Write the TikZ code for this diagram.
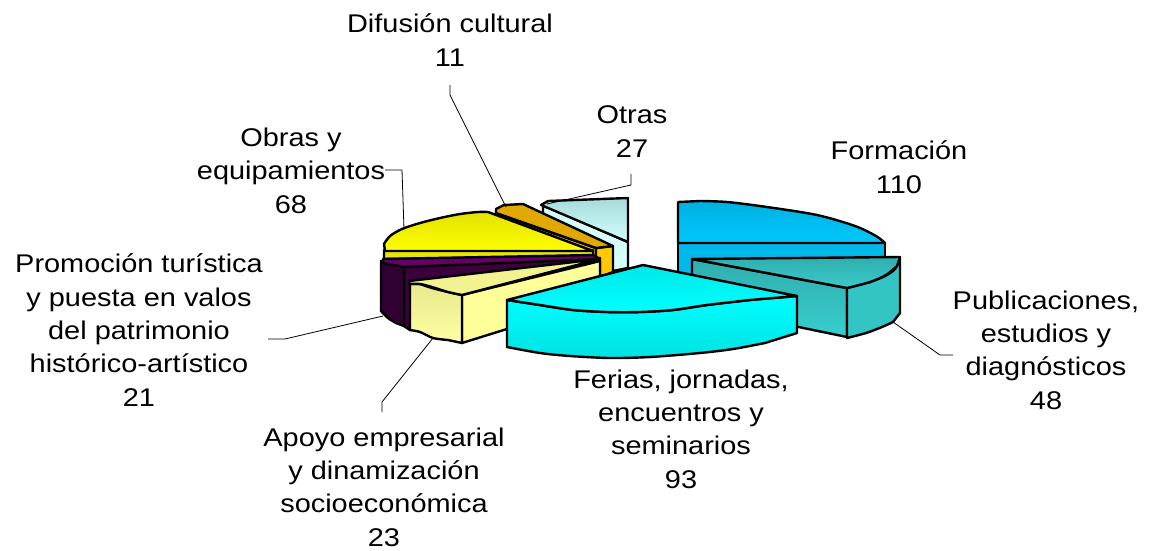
\documentclass[tikz,border=0pt]{standalone}
\usepackage{fontspec}
\setmainfont{Liberation Sans}[FakeStretch=1.13]
\definecolor{formTopA}{HTML}{00B0E2}
\definecolor{formTopB}{HTML}{00C8FC}
\definecolor{formFront}{HTML}{00B8EA}
\definecolor{pubTopA}{HTML}{2EAEAE}
\definecolor{pubTopB}{HTML}{3CCACA}
\definecolor{pubFrontA}{HTML}{30AEAE}
\definecolor{pubFrontB}{HTML}{38CECE}
\definecolor{pubOuter}{HTML}{33C4C4}
\definecolor{ferTopA}{HTML}{00E8E8}
\definecolor{ferTopB}{HTML}{00FFFF}
\definecolor{ferFrontA}{HTML}{00FFFF}
\definecolor{ferFrontB}{HTML}{00E2E2}
\definecolor{apoTop}{HTML}{F2F290}
\definecolor{apoOuterA}{HTML}{FFFFA4}
\definecolor{apoOuterB}{HTML}{E8E88C}
\definecolor{apoRadial}{HTML}{FFFF99}
\definecolor{proTop}{HTML}{660066}
\definecolor{proOuter}{HTML}{300030}
\definecolor{proRadial}{HTML}{3C003C}
\definecolor{obrTopA}{HTML}{E2E200}
\definecolor{obrTopB}{HTML}{FFFF00}
\definecolor{obrStrip}{HTML}{E6E600}
\definecolor{difTop}{HTML}{E0A800}
\definecolor{difFront}{HTML}{F2BC00}
\definecolor{difSide}{HTML}{FFC800}
\definecolor{otrTopA}{HTML}{A8DADA}
\definecolor{otrTopB}{HTML}{D2FFFF}
\definecolor{otrFront}{HTML}{D4FFFF}
\begin{document}
\begin{tikzpicture}[x=1pt,y=-1pt,
  face/.style={draw=black, line width=2.4pt, line join=round},
  leader/.style={draw=black, line width=0.8pt},
  lbl/.style={align=center, inner sep=0pt, anchor=base, font=\fontsize{25.6}{33.3}\selectfont}]
\useasboundingbox[fill=white] (0,0) rectangle (1153,550);

% ---- Otras
\draw[face, fill=otrFront] (543,205) -- (628,242) -- (628,268) -- (613,271) -- (543,236) -- cycle;
\draw[face, top color=otrTopA, bottom color=otrTopB] (541,205) -- (548,201) -- (628,198) -- (628,242) -- cycle;

% ---- Difusion cultural
\draw[face, fill=difFront] (496,213) -- (596,248) -- (596,276) -- (496,240) -- cycle;
\draw[face, fill=difSide] (596,248) -- (613,246) -- (613,272) -- (603,276) -- (596,276) -- cycle;
\draw[face, fill=difTop] (496,209) -- (504,205) -- (523,204) -- (613,246) -- (596,248) -- (496,213) -- cycle;

% ---- Obras y equipamientos
\draw[face, fill=obrStrip] (384,250) -- (593,250) -- (593,256) -- (384,259) -- cycle;
\draw[face, top color=obrTopA, bottom color=obrTopB] (385,251) -- plot[smooth] coordinates {(384,244) (390,236) (402,229) (420,223) (440,218) (460,214) (478,212) (488,212)} -- (593,251) -- cycle;

% ---- Promocion turistica
\draw[face, fill=proRadial] (404,266) -- (600,258) -- (600,300) -- (410,330) -- (404,326) -- cycle;
\draw[face, fill=proOuter] (381,261) -- (404,266) -- (404,326) -- plot[smooth] coordinates {(396,323) (388,318) (381,311)} -- cycle;
\draw[face, fill=proTop] (383,259) -- (593,255) -- (600,259) -- (404,267) -- (383,263) -- cycle;

% ---- Apoyo empresarial
\draw[face, fill=apoRadial] (462,295) -- (600,261) -- (600,300) -- (462,343) -- cycle;
\draw[face, top color=apoOuterB, bottom color=apoOuterA] (410,284) -- plot[smooth] coordinates {(420,284) (432,288) (448,292) (462,295)} -- (462,343) -- plot[smooth] coordinates {(448,340) (433,338) (420,332) (410,330)} -- cycle;
\draw[face, fill=apoTop] (409,281) -- (600,259) -- plot[smooth] coordinates {(462,295) (448,292) (432,287) (420,284) (409,284)} -- cycle;

% ---- Formacion
\draw[face, fill=formFront] (678,243) -- (885,243) -- (885,290) -- (678,290) -- cycle;
\draw[face, top color=formTopA, bottom color=formTopB] (678,243) -- (678,202) -- plot[smooth] coordinates {(700,201) (727,202) (767,207) (817,215) (855,226) (876,236) (885,243)} -- cycle;

% ---- Publicaciones
\draw[face, top color=pubFrontA, bottom color=pubFrontB] (692,259) -- (847,288) -- (847,337) -- (692,305) -- cycle;
\draw[face, fill=pubOuter] (847,288) -- plot[smooth] coordinates {(870,282) (885,276) (895,269) (900,258)} -- (900,313) -- plot[smooth] coordinates {(893,322) (882,327) (866,333) (847,338)} -- cycle;
\draw[face, top color=pubTopA, bottom color=pubTopB] (692,259) -- (900,257) -- plot[smooth] coordinates {(897,266) (886,275) (870,282) (847,288)} -- cycle;

% ---- Ferias
\draw[face, top color=ferFrontA, bottom color=ferFrontB] (507,300) -- plot[smooth] coordinates {(540,305) (573,310) (607,312) (640,312) (673,310) (707,305) (750,300) (797,296)} -- (797,333) -- plot[smooth] coordinates {(765,343) (733,349) (700,353) (650,357) (610,358) (570,356) (540,353) (507,347)} -- cycle;
\draw[face, top color=ferTopA, bottom color=ferTopB] (643,265) -- (797,296) -- plot[smooth] coordinates {(750,300) (707,305) (673,310) (640,312) (607,312) (573,310) (540,305) (507,300)} -- cycle;

% ---- labels (anchor = baseline of the last line)
\node[lbl] (difL) at (450,66) {Difusión cultural\\11};
\node[lbl] (otrL) at (632,157) {Otras\\27};
\node[lbl] (forL) at (899,193) {Formación\\110};
\node[lbl] (obrL) at (291,213) {Obras y\\equipamientos\\68};
\node[lbl] (proL) at (139,406) {Promoción turística\\y puesta en valos\\del patrimonio\\histórico-artístico\\21};
\node[lbl] (pubL) at (1046,409) {Publicaciones,\\estudios y\\diagnósticos\\48};
\node[lbl] (ferL) at (681,488) {Ferias, jornadas,\\encuentros y\\seminarios\\93};
\node[lbl] (apoL) at (384,546) {Apoyo empresarial\\y dinamización\\socioeconómica\\23};

% ---- leader lines
\coordinate (difA) at (450,85);  \coordinate (difB) at (506,207);
\coordinate (otrA) at (631,174); \coordinate (otrB) at (547,204);
\coordinate (obrA) at (385,170); \coordinate (obrB) at (404,229);
\coordinate (proA) at (268,339); \coordinate (proB) at (383,316);
\coordinate (apoA) at (382,412); \coordinate (apoB) at (433,338);
\coordinate (pubA) at (893,322); \coordinate (pubB) at (953,355);
\draw[leader] (difA) -- (450,95) -- (difB);
\draw[leader] (otrA) -- (631,185) -- (otrB);
\draw[leader] (obrA) -- (402,170) -- (obrB);
\draw[leader] (proA) -- (285,339) -- (proB);
\draw[leader] (apoA) -- (382,402) -- (apoB);
\draw[leader] (pubA) -- (940,355) -- (pubB);
\end{tikzpicture}
\end{document}
